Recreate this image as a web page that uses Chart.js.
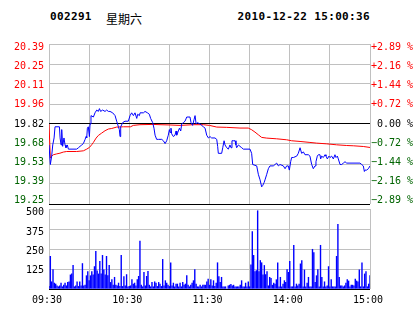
<!DOCTYPE html>
<html>
<head>
<meta charset="utf-8">
<script src="https://cdn.jsdelivr.net/npm/chart.js@4.4.1/dist/chart.umd.min.js"></script>
<style>
    body { margin: 0; background: #fff; }
    #wrap { position: relative; width: 414px; height: 314px; overflow: hidden; background: #fff; }
    canvas { position: absolute; left: 0; }
    .hd { position: absolute; top: 10px; line-height: 14px; white-space: pre; color: #000; }
    .mono { font: bold 11px "DejaVu Sans Mono", monospace; letter-spacing: 0.35px; }
    .cjk { font: 12px "Noto Sans CJK SC", sans-serif; }
</style>
</head>
<body>
<div id="wrap">
    <div class="hd mono" style="left:50px">002291</div>
    <div class="hd cjk" style="left:106px">星期六</div>
    <div class="hd mono" style="right:44px">2010-12-22 15:00:36</div>
    <canvas id="priceChart" width="414" height="207" style="top:0"></canvas>
    <canvas id="volChart" width="414" height="107" style="top:207px"></canvas>
</div>
<script>
// stock 002291, minute data for one session (0 = 09:30, 120 = 11:30/13:00, 240 = 15:00)
const preClose = 19.82;
const limitPct = 2.89;

const gridMinutes = [0, 30, 60, 90, 120, 150, 180, 210, 240];
const timeLabels = ['09:30', '', '10:30', '', '11:30', '', '14:00', '', '15:00'];
const priceLabels = ['19.25', '19.39', '19.53', '19.68', '19.82', '19.96', '20.11', '20.25', '20.39'];
const pctLabels = ['\u22122.89 %', '\u22122.16 %', '\u22121.44 %', '\u22120.72 %', ' 0.00 %', '+0.72 %', '+1.44 %', '+2.16 %', '+2.89 %'];
const volTicks = [0, 125, 250, 375, 500];
const volLabels = ['', '125', '250', '375', '500'];

// last price (blue)
const priceTimes = [
    0, 1, 2, 2.8, 3.8, 4.5, 7.8, 8.3, 9, 9.5, 10.2, 11.2, 12, 12.7, 13.7, 14.5, 20.7, 22, 23.2, 24.5,
    25.7, 27, 27.7, 28.2, 28.7, 29.4, 30.2, 30.7, 31.4, 33.2, 34.4, 35.7, 36.9, 37.7, 38.6, 40.1, 41.9, 43.1, 44.4, 45.6,
    47.6, 49.4, 50.6, 51.9, 52.6, 53.1, 53.6, 55.1, 56.8, 59.3, 60.6, 61.8, 63.1, 64.3, 65.6, 66.3, 67.6, 68.1, 70.6, 71.8,
    73.6, 75, 76, 77.5, 78.5, 79.3, 80.5, 81.8, 84.3, 85.5, 86.8, 88, 89.2, 90, 90.5, 91.2, 91.7, 93, 94.2, 95,
    95.5, 96.7, 97.5, 98.5, 99.2, 100.5, 101.7, 103, 105.4, 106.2, 107.4, 108.4, 109.2, 110, 111, 112.9, 114.2, 115.4, 116.7, 117.9,
    119.2, 120.4, 121.6, 124.1, 125.4, 126.1, 126.6, 129.1, 129.9, 130.9, 131.6, 132.9, 134.1, 135.3, 136.1, 136.8, 137.8, 139.1, 139.8, 140.3,
    141.6, 142.8, 144.1, 145.3, 150.3, 151.5, 152.3, 155.3, 156.5, 157.8, 159, 159.8, 160.8, 161.5, 162.8, 164, 165.2, 167.7, 169, 170.2,
    171.5, 172.7, 175.2, 176.5, 177.7, 178.9, 179.7, 180.7, 181.4, 182.7, 185.2, 186.4, 187.7, 188.9, 190.2, 191.4, 193.9, 195.1, 196.4, 197.6,
    198.9, 199.6, 200.6, 201.4, 202.6, 203.1, 203.9, 205.1, 206.4, 207.1, 208.1, 209.3, 210.1, 211.3, 212.6, 213.8, 214.6, 215.6, 216.3, 217.6,
    218.8, 220.1, 221.3, 222.6, 232.5, 233.8, 235, 235.8, 236.3, 237.5, 238.8, 240
];
const prices = [
    19.67, 19.53, 19.59, 19.67, 19.72, 19.80, 19.80, 19.72, 19.67, 19.78, 19.66, 19.72, 19.67, 19.65, 19.67, 19.64, 19.64, 19.65, 19.66, 19.67,
    19.68, 19.71, 19.73, 19.72, 19.79, 19.80, 19.73, 19.82, 19.88, 19.87, 19.90, 19.92, 19.91, 19.93, 19.91, 19.92, 19.91, 19.92, 19.91, 19.91,
    19.90, 19.88, 19.84, 19.80, 19.78, 19.73, 19.80, 19.83, 19.84, 19.84, 19.88, 19.90, 19.88, 19.90, 19.86, 19.89, 19.88, 19.90, 19.90, 19.91,
    19.90, 19.89, 19.86, 19.83, 19.79, 19.74, 19.71, 19.71, 19.71, 19.70, 19.68, 19.70, 19.74, 19.78, 19.76, 19.79, 19.75, 19.73, 19.74, 19.77,
    19.74, 19.77, 19.79, 19.77, 19.82, 19.83, 19.84, 19.87, 19.87, 19.83, 19.81, 19.85, 19.88, 19.82, 19.83, 19.82, 19.81, 19.80, 19.79, 19.74,
    19.72, 19.73, 19.72, 19.72, 19.71, 19.66, 19.61, 19.61, 19.65, 19.70, 19.67, 19.65, 19.64, 19.67, 19.65, 19.70, 19.70, 19.70, 19.67, 19.65,
    19.67, 19.66, 19.65, 19.64, 19.64, 19.61, 19.53, 19.52, 19.46, 19.42, 19.37, 19.38, 19.40, 19.42, 19.46, 19.50, 19.52, 19.52, 19.53, 19.54,
    19.52, 19.53, 19.52, 19.50, 19.52, 19.52, 19.49, 19.55, 19.58, 19.58, 19.59, 19.61, 19.65, 19.61, 19.62, 19.60, 19.60, 19.59, 19.53, 19.50,
    19.52, 19.55, 19.59, 19.60, 19.60, 19.57, 19.59, 19.58, 19.60, 19.59, 19.57, 19.59, 19.58, 19.59, 19.57, 19.60, 19.58, 19.59, 19.57, 19.53,
    19.53, 19.54, 19.55, 19.54, 19.54, 19.53, 19.52, 19.48, 19.49, 19.49, 19.50, 19.52
];

// average price (red)
const avgTimes = [
    0, 1, 2, 3.3, 5.8, 8.2, 10.7, 13.2, 20.7, 25.7, 28.2, 30.2, 31.9, 33.2, 35.2, 36.9, 39.4, 41.9, 44.4, 46.9,
    50.6, 55.6, 61, 63, 68, 78, 83, 90.5, 98, 108, 115.4, 120, 125.4, 132.9, 142.8, 149, 151.5, 154, 156.5, 159,
    162.8, 170.2, 177.7, 181.4, 187.7, 195.1, 200.1, 207.6, 215, 222.6, 227.5, 235, 240
];
const avgPrices = [
    19.82, 19.576, 19.59, 19.60, 19.606, 19.611, 19.619, 19.623, 19.623, 19.628, 19.64, 19.652, 19.671, 19.688, 19.719, 19.738, 19.755, 19.772, 19.784, 19.788,
    19.798, 19.80, 19.80, 19.81, 19.815, 19.817, 19.815, 19.813, 19.81, 19.815, 19.815, 19.81, 19.798, 19.796, 19.791, 19.791, 19.779, 19.762, 19.743, 19.724,
    19.719, 19.714, 19.707, 19.70, 19.695, 19.688, 19.683, 19.678, 19.671, 19.666, 19.664, 19.659, 19.652
];

// volume per minute, index = minute
const volumes = [
    17, 205, 46, 122, 38, 32, 21, 15, 21, 38, 15, 25, 38, 21, 42, 46, 89, 95, 148, 15,
    21, 46, 17, 46, 21, 160, 21, 25, 84, 110, 53, 84, 110, 89, 141, 236, 114, 95, 173, 95,
    211, 120, 89, 205, 84, 148, 42, 59, 25, 74, 25, 21, 38, 17, 211, 17, 78, 21, 91, 15,
    17, 21, 59, 32, 38, 21, 59, 80, 300, 25, 15, 105, 21, 80, 112, 25, 15, 42, 15, 46,
    38, 17, 42, 32, 17, 186, 21, 53, 38, 25, 17, 165, 21, 38, 15, 32, 32, 15, 38, 15,
    42, 25, 32, 84, 25, 15, 25, 38, 53, 122, 32, 15, 15, 25, 15, 25, 25, 25, 46, 63,
    25, 59, 21, 53, 17, 38, 165, 78, 42, 74, 15, 15, 15, 0, 21, 25, 30, 21, 25, 15,
    15, 15, 15, 25, 53, 15, 15, 38, 15, 46, 15, 152, 359, 211, 110, 116, 490, 110, 179, 165,
    89, 148, 91, 110, 21, 74, 68, 25, 38, 32, 59, 165, 15, 74, 15, 32, 53, 42, 122, 105,
    173, 15, 15, 274, 15, 32, 21, 32, 158, 179, 15, 120, 15, 38, 74, 15, 15, 249, 228, 42,
    84, 122, 15, 274, 74, 15, 46, 15, 21, 141, 15, 59, 15, 15, 15, 205, 405, 74, 21, 21,
    15, 21, 38, 59, 51, 15, 25, 25, 21, 63, 51, 46, 120, 15, 165, 15, 95, 110, 15, 32,
    84
];

const RED = '#ff0000';
const GREEN = '#006400';
const GRID = '#c0c0c0';
const tickFont = { family: 'DejaVu Sans Mono', size: 10 };

const priceMin = preClose * (1 - limitPct / 100);
const priceMax = preClose * (1 + limitPct / 100);
// label axes are stretched a little so the labels sit slightly inside the outer grid lines
const labelPad = (priceMax - priceMin) * 0.022;

function levelTicks(scale) {
    scale.ticks = priceLabels.map((_, i) => ({ value: priceMin + (priceMax - priceMin) * i / (priceLabels.length - 1) }));
}
function levelColor(ctx) {
    if (ctx.index < 4) return GREEN;
    if (ctx.index > 4) return RED;
    return '#000';
}
function minuteTicks(scale) {
    scale.ticks = gridMinutes.map(v => ({ value: v }));
}
// fixed axis sizes, and no extra room reserved for labels hanging past the plot edges
function fixSize(w, h) {
    return s => {
        if (w !== null) s.width = w;
        if (h !== null) s.height = h;
        s.paddingTop = 0;
        s.paddingBottom = 0;
        s.paddingLeft = 0;
        s.paddingRight = 0;
    };
}

new Chart(document.getElementById('priceChart'), {
    type: 'line',
    data: {
        datasets: [
            {
                data: priceTimes.map((t, i) => ({ x: t, y: prices[i] })),
                borderColor: '#0000ff',
                borderWidth: 1,
                pointRadius: 0,
                tension: 0,
                order: 0
            },
            {
                data: avgTimes.map((t, i) => ({ x: t, y: avgPrices[i] })),
                borderColor: RED,
                borderWidth: 1,
                pointRadius: 0,
                tension: 0,
                order: 1
            }
        ]
    },
    options: {
        responsive: false,
        animation: false,
        events: [],
        layout: { autoPadding: false, padding: { top: 44, bottom: 3, left: 0, right: 0 } },
        plugins: { legend: { display: false }, tooltip: { enabled: false } },
        scales: {
            x: {
                type: 'linear',
                min: 0,
                max: 240,
                afterBuildTicks: minuteTicks,
                afterFit: fixSize(null, 0),
                ticks: { display: false },
                grid: { color: GRID, drawTicks: false },
                border: { display: false }
            },
            y: {
                position: 'left',
                min: priceMin,
                max: priceMax,
                afterBuildTicks: levelTicks,
                afterFit: fixSize(0, null),
                ticks: { display: false },
                grid: {
                    drawTicks: false,
                    color: ctx => (ctx.index === 0 || ctx.index === 4) ? '#000' : GRID
                },
                border: { display: false }
            },
            yl: {
                position: 'left',
                min: priceMin - labelPad,
                max: priceMax + labelPad,
                afterBuildTicks: levelTicks,
                afterFit: fixSize(49, null),
                grid: { display: false, drawTicks: false },
                border: { display: false },
                ticks: {
                    font: tickFont,
                    padding: 5,
                    color: levelColor,
                    callback: (v, i) => priceLabels[i]
                }
            },
            yr: {
                position: 'right',
                min: priceMin - labelPad,
                max: priceMax + labelPad,
                afterBuildTicks: levelTicks,
                afterFit: fixSize(44, null),
                grid: { display: false, drawTicks: false },
                border: { display: false },
                ticks: {
                    font: tickFont,
                    padding: 1,
                    color: levelColor,
                    callback: (v, i) => pctLabels[i]
                }
            }
        }
    }
});

new Chart(document.getElementById('volChart'), {
    type: 'bar',
    data: {
        datasets: [{
            data: volumes.map((v, i) => ({ x: i, y: v })),
            backgroundColor: '#0000ff',
            barThickness: 1,
            inflateAmount: 0.2,
            grouped: false
        }]
    },
    options: {
        responsive: false,
        animation: false,
        events: [],
        layout: { autoPadding: false, padding: { top: 2, bottom: 0, left: 0, right: 44 } },
        plugins: { legend: { display: false }, tooltip: { enabled: false } },
        scales: {
            x: {
                type: 'linear',
                min: 0,
                max: 240,
                offset: false,
                afterBuildTicks: minuteTicks,
                afterFit: fixSize(null, 25),
                grid: { color: GRID, drawTicks: false, offset: false },
                border: { display: false },
                ticks: {
                    font: tickFont,
                    color: '#000',
                    padding: 5,
                    labelOffset: -2,
                    autoSkip: false,
                    maxRotation: 0,
                    callback: (v, i) => timeLabels[i]
                }
            },
            y: {
                position: 'left',
                min: 0,
                max: 500,
                afterBuildTicks: s => { s.ticks = volTicks.map(v => ({ value: v })); },
                afterFit: fixSize(0, null),
                ticks: { display: false },
                grid: {
                    drawTicks: false,
                    color: ctx => ctx.index === 0 ? '#000' : GRID
                },
                border: { display: false }
            },
            yl: {
                position: 'left',
                min: 6,
                max: 524,
                afterBuildTicks: s => { s.ticks = volTicks.slice(1).map(v => ({ value: v })); },
                afterFit: fixSize(49, null),
                grid: { display: false, drawTicks: false },
                border: { display: false },
                ticks: {
                    font: tickFont,
                    color: '#000',
                    padding: 5,
                    callback: (v, i) => volLabels[i + 1]
                }
            }
        }
    }
});
</script>
</body>
</html>
